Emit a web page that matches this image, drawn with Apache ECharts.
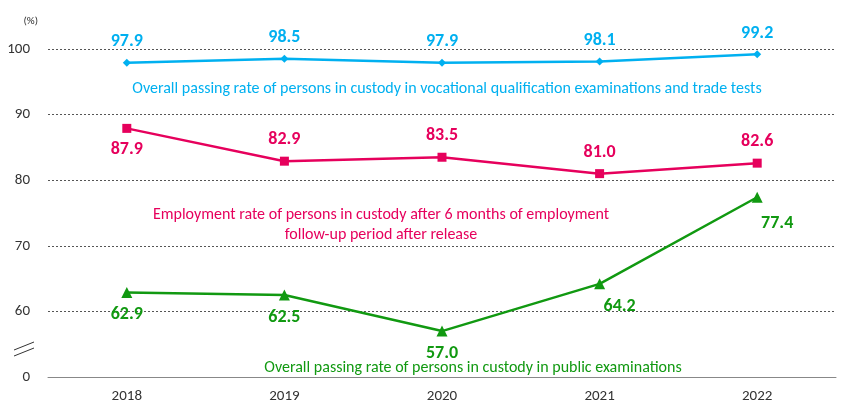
<!DOCTYPE html>
<html>
<head>
<meta charset="utf-8">
<script src="https://cdn.jsdelivr.net/npm/echarts@6/dist/echarts.min.js"></script>
<style>html,body{margin:0;padding:0;background:#fff}#main{width:863px;height:415px}</style>
</head>
<body>
<div id="main"></div>
<script>
var years = ['2018', '2019', '2020', '2021', '2022'];
var qualRate = [97.9, 98.5, 97.9, 98.1, 99.2];
var employRate = [87.9, 82.9, 83.5, 81.0, 82.6];
var publicRate = [62.9, 62.5, 57.0, 64.2, 77.4];
var employPos = ['bottom', 'top', 'top', 'top', 'top'];
var publicOff = [[0, 0], [0, 0], [0, 0], [20, 0], [20, 4]];

var font = 'Calibri, Carlito, "Liberation Sans", sans-serif';
var lblsize = 18;

function lbl(pos, color, off) {
	return {show: true, position: pos, distance: 8, offset: off || [0, 0], color: color,
		fontSize: lblsize, fontWeight: 'bold', fontFamily: font,
		formatter: function (p) { return p.value.toFixed(1); }};
}

var chart = echarts.init(document.getElementById('main'));
chart.setOption({
	animation: false,
	grid: {left: 48, right: 27, top: 49, bottom: 38},
	xAxis: {
		type: 'category',
		data: years,
		axisTick: {show: false},
		axisLine: {lineStyle: {color: '#888', width: 1}},
		axisLabel: {color: '#333', fontSize: 15, fontFamily: font, margin: 12}
	},
	yAxis: {
		type: 'value',
		min: 50, max: 100, interval: 10,
		name: '(%)',
		nameGap: 22,
		nameLocation: 'end',
		nameTextStyle: {color: '#333', fontSize: 11, fontFamily: font, align: 'right', padding: [0, 10, 0, 0]},
		axisLabel: {color: '#333', fontSize: 15, fontFamily: font, margin: 18,
			formatter: function (v) { return v === 50 ? '0' : v; }},
		splitLine: {lineStyle: {color: '#555', type: [2, 2], width: 1}}
	},
	graphic: [
		{type: 'text', x: 447, y: 81, style: {text: 'Overall passing rate of persons in custody in vocational qualification examinations and trade tests', fill: '#00b0f0', fontSize: 16, fontFamily: font, textAlign: 'center'}},
		{type: 'text', x: 381, y: 205, style: {text: 'Employment rate of persons in custody after 6 months of employment\nfollow-up period after release', fill: '#e6005c', fontSize: 16, lineHeight: 20, fontFamily: font, textAlign: 'center'}},
		{type: 'text', x: 473, y: 360, style: {text: 'Overall passing rate of persons in custody in public examinations', fill: '#119911', fontSize: 16, fontFamily: font, textAlign: 'center'}},
		{type: 'line', shape: {x1: 14, y1: 350, x2: 34, y2: 342}, style: {stroke: '#333', lineWidth: 1}},
		{type: 'line', shape: {x1: 14, y1: 356, x2: 34, y2: 348}, style: {stroke: '#333', lineWidth: 1}}
	],
	series: [
		{
			name: 'qual', type: 'line', data: qualRate,
			symbol: 'diamond', symbolSize: 8,
			itemStyle: {color: '#00b0f0'}, lineStyle: {color: '#00b0f0', width: 2.5},
			label: lbl('top', '#00b0f0')
		},
		{
			name: 'employ', type: 'line',
			data: employRate.map(function (v, i) { return {value: v, label: lbl(employPos[i], '#e6005c')}; }),
			symbol: 'rect', symbolSize: 9,
			itemStyle: {color: '#e6005c'}, lineStyle: {color: '#e6005c', width: 2.5},
			label: lbl('top', '#e6005c')
		},
		{
			name: 'public', type: 'line',
			data: publicRate.map(function (v, i) { return {value: v, label: lbl('bottom', '#119911', publicOff[i])}; }),
			symbol: 'triangle', symbolSize: 11,
			itemStyle: {color: '#119911'}, lineStyle: {color: '#119911', width: 2.5},
			label: lbl('bottom', '#119911')
		}
	]
});
</script>
</body>
</html>
